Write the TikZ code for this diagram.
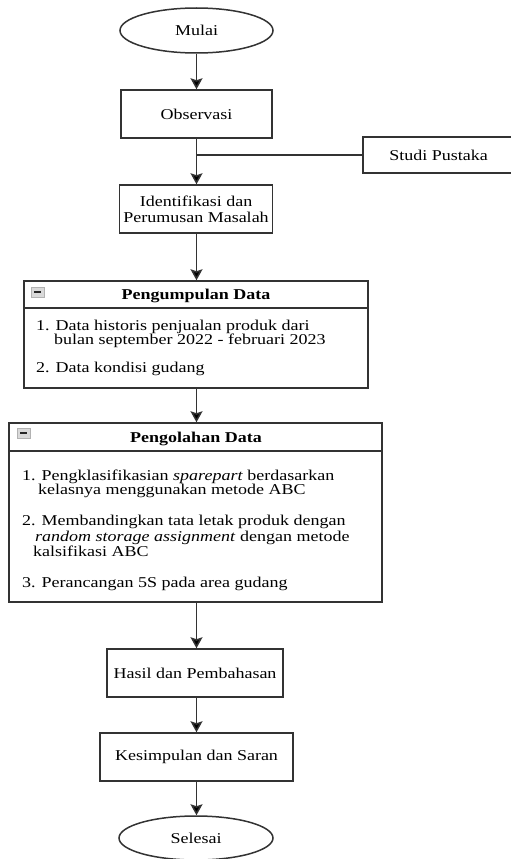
\documentclass[tikz,border=0pt]{standalone}
\usepackage{fontspec}
\setmainfont{Liberation Serif}[FakeStretch=1.2]
\usetikzlibrary{arrows.meta,shapes.geometric}
\definecolor{ln}{HTML}{333333}
\tikzset{
  box/.style={draw=ln, line width=1.5pt, fill=white, align=center, inner sep=2pt},
  oval/.style={draw=ln, line width=1.5pt, ellipse, inner sep=0pt},
  conn/.style={draw=ln, line width=1.5pt, -{Stealth[width=12pt,length=11pt,inset=2pt,fill=black]}},
  plain/.style={draw=ln, line width=1.5pt},
  txt/.style={anchor=base west, inner sep=0pt},
  icon/.style={draw=gray!60, fill=gray!30, line width=0.8pt, minimum width=13pt, minimum height=10pt, inner sep=0pt},
}
\begin{document}
\begin{tikzpicture}[x=1pt,y=-1pt,font=\fontsize{15pt}{16pt}\selectfont]
\useasboundingbox (0,0) rectangle (511,859);
% start
\node[oval, minimum width=153pt, minimum height=45pt] (mulai) at (196.5,30.5) {Mulai};
\node[box, minimum width=151pt, minimum height=48pt] (obs) at (196.5,114) {Observasi};
\node[box, minimum width=151pt, minimum height=36pt] (studi) at (438.5,155) {Studi Pustaka};
\node[box, minimum width=153pt, minimum height=48pt] (ident) at (196,209) {Identifikasi dan\\Perumusan Masalah};
% Pengumpulan Data container
\node[box, minimum width=344pt, minimum height=107pt, inner sep=0pt] (kumpul) at (196,334.5) {};
\coordinate (kh1) at (24,308);
\coordinate (kh2) at (368,308);
\draw[plain] (kh1) -- (kh2);
\node[icon] (kicon) at (38,292) {};
\draw[gray!30!black, line width=1.4pt] (kicon.west) ++(3pt,0) -- ++(7pt,0);
\node[inner sep=0pt, anchor=base, font=\fontsize{15pt}{16pt}\selectfont\bfseries] (khead) at (196,299) {Pengumpulan Data};
\node[txt] (k1a) at (36,330) {1. Data historis penjualan produk dari};
\node[txt] (k1b) at (54,344) {bulan september 2022 - februari 2023};
\node[txt] (k2) at (36,372) {2. Data kondisi gudang};
% Pengolahan Data container
\node[box, minimum width=373pt, minimum height=179pt, inner sep=0pt] (olah) at (195.5,512.5) {};
\coordinate (oh1) at (9,451);
\coordinate (oh2) at (382,451);
\draw[plain] (oh1) -- (oh2);
\node[icon] (oicon) at (24,433) {};
\draw[gray!30!black, line width=1.4pt] (oicon.west) ++(3pt,0) -- ++(7pt,0);
\node[inner sep=0pt, anchor=base, font=\fontsize{15pt}{16pt}\selectfont\bfseries] (ohead) at (196,442) {Pengolahan Data};
\node[txt] (o1a) at (22,480) {1. Pengklasifikasian \textit{sparepart} berdasarkan};
\node[txt] (o1b) at (38,494) {kelasnya menggunakan metode ABC};
\node[txt] (o2a) at (22,525) {2. Membandingkan tata letak produk dengan};
\node[txt] (o2b) at (35,541) {\textit{random storage assignment} dengan metode};
\node[txt] (o2c) at (33,556) {kalsifikasi ABC};
\node[txt] (o3) at (22,587) {3. Perancangan 5S pada area gudang};
% bottom part
\node[box, minimum width=176pt, minimum height=48pt] (hasil) at (195,673) {Hasil dan Pembahasan};
\node[box, minimum width=193pt, minimum height=48pt] (kesim) at (196.5,757) {Kesimpulan dan Saran};
\node[oval, minimum width=154pt, minimum height=44pt] (selesai) at (196,838) {Selesai};
% connectors
\coordinate (j) at (196.5,155);
\draw[conn] (mulai.south -| j) -- (obs.north -| j);
\draw[plain] (obs.south -| j) -- (j);
\draw[conn] (j) -- (ident.north -| j);
\draw[plain] (studi.west) -- (j);
\draw[conn] (ident.south -| j) -- (kumpul.north -| j);
\draw[conn] (kumpul.south -| j) -- (olah.north -| j);
\draw[conn] (olah.south -| j) -- (hasil.north -| j);
\draw[conn] (hasil.south -| j) -- (kesim.north -| j);
\draw[conn] (kesim.south -| j) -- (selesai.north -| j);
\end{tikzpicture}
\end{document}
